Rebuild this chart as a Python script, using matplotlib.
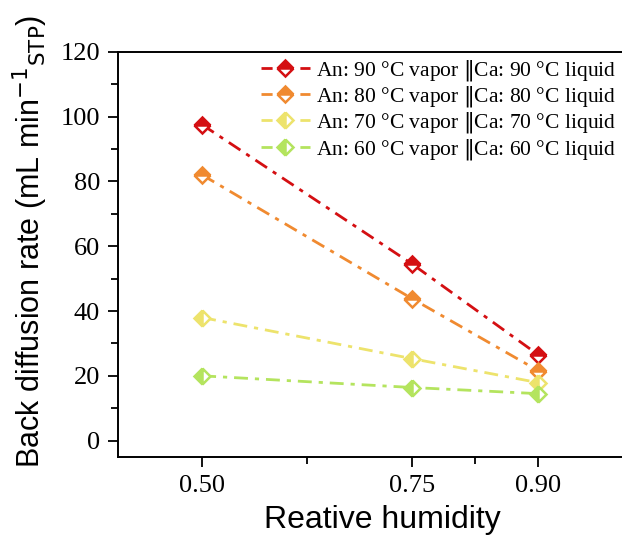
import matplotlib
matplotlib.use("Agg")
import matplotlib.pyplot as plt
from matplotlib.ticker import MultipleLocator, FixedLocator

humidity = [0.50, 0.75, 0.90]
rate_90 = [97.5, 54.5, 26.5]
rate_80 = [82.0, 43.8, 21.6]
rate_70 = [38.0, 25.3, 17.9]
rate_60 = [20.0, 16.4, 14.5]

temps = [90, 80, 70, 60]
series = [rate_90, rate_80, rate_70, rate_60]
colors = ["#d40f12", "#f08a30", "#ede36c", "#b4e45e"]
fills = ["top", "top", "left", "left"]

serif = ["Liberation Serif", "DejaVu Serif"]
sans = ["Liberation Sans", "DejaVu Sans"]
plt.rcParams["mathtext.fontset"] = "dejavusans"

fig = plt.figure(figsize=(6.22, 5.40), dpi=100)
# axes runs a little past the right edge of the picture, as in the original crop
ax = fig.add_axes([0.19, 0.154, 0.849, 0.75])

for temp, values, color, fs in zip(temps, series, colors, fills):
    label = f"An: {temp} \u00b0C vapor $\\Vert$Ca: {temp} \u00b0C liquid"
    ax.plot(humidity, values, color=color, lw=2.0, dashes=(5, 2.5, 1.5, 2.5),
            marker="D", ms=8, mew=1.8, mec=color, mfc=color,
            fillstyle=fs, markerfacecoloralt="white", label=label)

ax.set_xlim(0.4, 1.0286)
ax.set_ylim(-5, 120)
ax.xaxis.set_major_locator(FixedLocator(humidity))
ax.xaxis.set_minor_locator(FixedLocator([0.625, 0.825]))
ax.yaxis.set_major_locator(MultipleLocator(20))
ax.yaxis.set_minor_locator(MultipleLocator(10))
ax.set_xticklabels(["0.50", "0.75", "0.90"])

ax.tick_params(which="major", direction="out", length=7, width=1.3,
               labelsize=19, pad=6)
ax.tick_params(which="minor", direction="out", length=5, width=1.3)
for lab in ax.get_xticklabels() + ax.get_yticklabels():
    lab.set_family(serif)

for side in ["left", "bottom", "top"]:
    ax.spines[side].set_linewidth(1.4)
ax.spines["right"].set_visible(False)

ax.set_xlabel("Reative humidity", fontsize=23, family=sans, labelpad=6)
ax.set_ylabel("Back diffusion rate (mL min$^{\\mathrm{-1}}$$_{\\mathrm{STP}}$)",
              fontsize=22, family=sans)
ax.yaxis.set_label_coords(-0.13, 0.531)

leg = ax.legend(loc="upper right", bbox_to_anchor=(0.997, 0.9), bbox_transform=fig.transFigure,
                frameon=False, prop={"family": serif, "size": 15.5},
                handlelength=2.3, handletextpad=0.25, labelspacing=0.05,
                borderpad=0.2, borderaxespad=0.0)
for h in leg.legend_handles:
    h.set_dashes((4, 3))

fig.savefig("out.png", dpi=100)
